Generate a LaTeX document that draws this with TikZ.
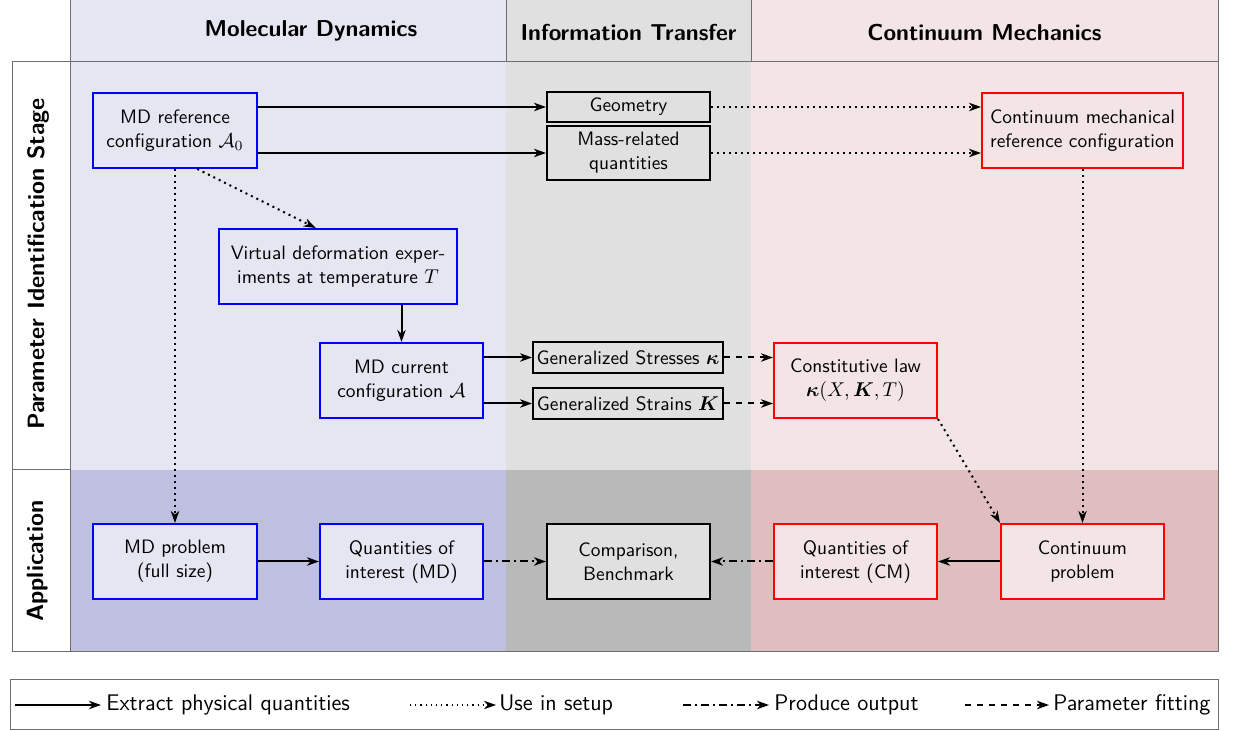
\documentclass[tikz,border=0pt]{standalone}
\usepackage{amsmath}
\usetikzlibrary{arrows.meta,calc}
\renewcommand{\familydefault}{\sfdefault}
\definecolor{mdlight}{RGB}{230,230,243}
\definecolor{mddark}{RGB}{191,191,224}
\definecolor{itlight}{RGB}{224,224,224}
\definecolor{itdark}{RGB}{185,185,185}
\definecolor{cmlight}{RGB}{243,228,229}
\definecolor{cmdark}{RGB}{224,190,191}
\definecolor{gridgray}{RGB}{110,110,110}
\newcommand{\nodefont}{\fontsize{9.7}{12}\selectfont\sffamily}
\newcommand{\headfont}{\fontsize{11.5}{14}\selectfont\bfseries\sffamily}
\newcommand{\sidefont}{\fontsize{11.8}{14}\selectfont\bfseries\sffamily}
\newcommand{\legfont}{\fontsize{11.3}{13}\selectfont\sffamily}
\tikzset{
  box/.style={draw, line width=1pt, align=center, inner sep=0pt, font=\nodefont,
    minimum width=81.5pt, minimum height=37.5pt},
  mdbox/.style={box, draw=blue, fill=mdlight},
  itbox/.style={box, draw=black, fill=itlight},
  cmbox/.style={box, draw=red, fill=cmlight},
  conn/.style={line width=1pt, -{Stealth[length=6pt,width=4.2pt,inset=1.8pt]}},
  grid/.style={draw=gridgray, line width=0.5pt},
  head/.style={font=\headfont},
  side/.style={font=\sidefont},
}
\begin{document}
\begin{tikzpicture}[x=0.5pt, y=-0.5pt]
\useasboundingbox (0,0) rectangle (1237,731);
% backgrounds
\fill[mdlight] (70,0) rectangle (506,470);
\fill[itlight] (506,0) rectangle (751,470);
\fill[cmlight] (751,0) rectangle (1218,470);
\fill[mddark] (70,470) rectangle (506,652);
\fill[itdark] (506,470) rectangle (751,652);
\fill[cmdark] (751,470) rectangle (1218,652);
% grid lines
\draw[grid] (70,0) -- (70,652);
\draw[grid] (506,0) -- (506,62);
\draw[grid] (751,0) -- (751,62);
\draw[grid] (1218,0) -- (1218,652);
\draw[grid] (70,62) -- (1218,62);
\draw[grid] (12,62) rectangle (1218,652);
\draw[grid] (12,470) -- (70,470);
% headers
\node[head] (hmd) at (311,31) {Molecular Dynamics};
\node[head] (hit) at (628.5,33) {Information Transfer};
\node[head] (hcm) at (984.5,33) {Continuum Mechanics};
\node[side, rotate=90] (hpis) at (38,264) {Parameter Identification Stage};
\node[side, rotate=90] (happ) at (38,561) {Application};
% nodes
\node[mdbox, minimum width=82pt] (mdref) at (175,130.5) {MD reference\\configuration $\mathcal{A}_0$};
\node[itbox, minimum height=15pt] (geom) at (628.5,107) {Geometry};
\node[itbox, minimum height=27pt] (mass) at (628.5,153) {Mass-related\\quantities};
\node[cmbox, minimum width=100.5pt] (cmref) at (1082.5,130.5) {Continuum mechanical\\reference configuration};
\node[mdbox, minimum width=119pt] (virt) at (338,266.5) {Virtual deformation exper-\\iments at temperature $T$};
\node[mdbox] (mdcur) at (401.5,380.5) {MD current\\configuration $\mathcal{A}$};
\node[itbox, minimum width=95pt, minimum height=15.5pt] (stress) at (628,357.5) {Generalized Stresses $\boldsymbol{\kappa}$};
\node[itbox, minimum width=95pt, minimum height=15.5pt] (strain) at (628,403.5) {Generalized Strains $\boldsymbol{K}$};
\node[cmbox] (const) at (855.5,380.5) {Constitutive law\\$\boldsymbol{\kappa}(X,\boldsymbol{K},T)$};
\node[mdbox, minimum width=82pt] (mdprob) at (175,561.5) {MD problem\\(full size)};
\node[mdbox] (qoimd) at (401.5,561.5) {Quantities of\\interest (MD)};
\node[itbox] (comp) at (628.5,561.5) {Comparison,\\Benchmark};
\node[cmbox] (qoicm) at (855.5,561.5) {Quantities of\\interest (CM)};
\node[cmbox] (cmprob) at (1082.5,561.5) {Continuum\\problem};
% connectors
\draw[conn] (mdref.east |- geom.west) -- (geom.west);
\draw[conn] (mdref.east |- mass.west) -- (mass.west);
\draw[conn, dotted] (geom.east) -- (geom.east -| cmref.west);
\draw[conn, dotted] (mass.east) -- (mass.east -| cmref.west);
\draw[conn, dotted] (mdref.300) -- (virt.120);
\draw[conn, dotted] (mdref.south) -- (mdprob.north);
\draw[conn] (virt.south -| mdcur.north) -- (mdcur.north);
\draw[conn] (mdcur.east |- stress.west) -- (stress.west);
\draw[conn] (mdcur.east |- strain.west) -- (strain.west);
\draw[conn, dashed] (stress.east) -- (stress.east -| const.west);
\draw[conn, dashed] (strain.east) -- (strain.east -| const.west);
\draw[conn, dotted] (const.south east) -- (cmprob.north west);
\draw[conn, dotted] (cmref.south) -- (cmprob.north);
\draw[conn] (mdprob) -- (qoimd);
\draw[conn, dash pattern=on 4pt off 2pt on 1pt off 2pt] (qoimd) -- (comp);
\draw[conn] (cmprob) -- (qoicm);
\draw[conn, dash pattern=on 4pt off 2pt on 1pt off 2pt] (qoicm) -- (comp);
% legend
\draw[grid] (10,680) rectangle (1218,729);
\coordinate (l1a) at (15,705); \coordinate (l1b) at (101,705);
\coordinate (l2a) at (410,705); \coordinate (l2b) at (496,705);
\coordinate (l3a) at (683,705); \coordinate (l3b) at (769,705);
\coordinate (l4a) at (965,705); \coordinate (l4b) at (1049,705);
\draw[conn, line width=1.2pt] (l1a) -- (l1b);
\draw[conn, line width=0.6pt, dotted] (l2a) -- (l2b);
\draw[conn, dash pattern=on 4pt off 2pt on 1pt off 2pt] (l3a) -- (l3b);
\draw[conn, dashed] (l4a) -- (l4b);
\node[anchor=west, inner sep=1pt, font=\legfont] (t1) at (104,705) {Extract physical quantities};
\node[anchor=west, inner sep=1pt, font=\legfont] (t2) at (497,705) {Use in setup};
\node[anchor=west, inner sep=1pt, font=\legfont] (t3) at (772,705) {Produce output};
\node[anchor=west, inner sep=1pt, font=\legfont] (t4) at (1051,705) {Parameter fitting};
\end{tikzpicture}
\end{document}
